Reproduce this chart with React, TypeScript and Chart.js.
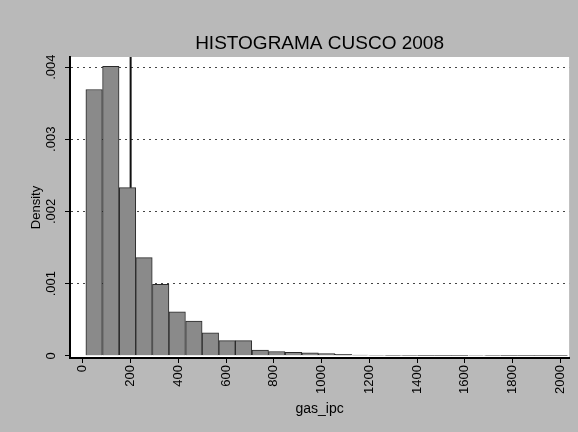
import React, { useEffect, useRef } from "react";
import { Chart, registerables } from "chart.js";

Chart.register(...registerables);

// Histogram bins (centres of bins of gas_ipc) and densities
const binCenters = [
  47, 117, 187, 256, 326, 395, 465, 534, 604, 673, 743, 812, 882, 952, 1021,
  1091, 1160, 1230, 1299, 1369, 1438, 1508, 1578, 1647, 1717, 1786, 1856, 1925, 1995,
];
const densities = [
  0.00369, 0.00401, 0.00233, 0.00136, 0.00099, 0.00061, 0.00048, 0.00032, 0.00021,
  0.00021, 0.00008, 0.00006, 0.00005, 0.00004, 0.00003, 0.00002, 0.00001, 0.000008,
  0.000005, 0.000005, 0.000003, 0.000003, 0.000003, 0.000008, 0.000005, 0.000002,
  0.000002, 0.000002, 0.000002,
];
// reference line
const refLineX = [200, 200];
const refLineY = [0.00233, 0.00414];

const xTicks = [0, 200, 400, 600, 800, 1000, 1200, 1400, 1600, 1800, 2000];
const yTicks = [0, 0.001, 0.002, 0.003, 0.004];

const titleText = "HISTOGRAMA CUSCO 2008";
const xTitle = "gas_ipc";
const yTitle = "Density";

const FONT = "'Liberation Sans', Arial, Helvetica, sans-serif";

export default function App() {
  const ref = useRef<HTMLCanvasElement | null>(null);

  useEffect(() => {
    const canvas = ref.current;
    if (!canvas) return;

    const bgPlugin = {
      id: "bgPlugin",
      beforeDraw(chart: any) {
        const { ctx, chartArea } = chart;
        ctx.save();
        ctx.fillStyle = "#b9b9b9";
        ctx.fillRect(0, 0, chart.width, chart.height);
        ctx.fillStyle = "#ffffff";
        ctx.fillRect(chartArea.left, chartArea.top, chartArea.right - chartArea.left, chartArea.bottom - chartArea.top);
        ctx.restore();
      },
      afterDraw(chart: any) {
        const { ctx, chartArea } = chart;
        ctx.save();
        ctx.fillStyle = "#000";
        ctx.font = `19px ${FONT}`;
        ctx.textAlign = "center";
        ctx.textBaseline = "middle";
        ctx.fillText(titleText, (chartArea.left + chartArea.right) / 2, 44);
        ctx.restore();
      },
    };

    const chart = new Chart(canvas, {
      type: "bar",
      data: {
        datasets: [
          {
            type: "line",
            data: refLineX.map((x, i) => ({ x, y: refLineY[i] })),
            borderColor: "#111",
            borderWidth: 2,
            pointRadius: 0,
            fill: false,
          } as any,
          {
            type: "bar",
            data: binCenters.map((x, i) => ({ x, y: densities[i] })),
            backgroundColor: "#8a8a8a",
            borderColor: "#2a2a2a",
            borderWidth: 1,
            barPercentage: 1,
            categoryPercentage: 1,
          } as any,
        ],
      },
      options: {
        responsive: false,
        maintainAspectRatio: false,
        animation: false,
        layout: { padding: { left: 0, top: 57, right: 6, bottom: 0 } },
        plugins: {
          legend: { display: false },
          title: { display: false },
          tooltip: { enabled: false },
        },
        scales: {
          x: {
            type: "linear",
            min: -54,
            max: 2037,
            offset: false,
            afterBuildTicks: (s: any) => {
              s.ticks = xTicks.map((v) => ({ value: v }));
            },
            afterFit: (s: any) => {
              s.height = 74;
            },
            ticks: {
              minRotation: 90,
              maxRotation: 90,
              padding: 2,
              color: "#000",
              font: { family: FONT, size: 13 },
              callback: (v: any) => String(v),
            },
            grid: {
              offset: false,
              drawOnChartArea: false,
              drawTicks: true,
              tickLength: 5,
              tickColor: "#000",
            },
            border: { display: true, color: "#000", width: 2 },
            title: {
              display: true,
              text: xTitle,
              color: "#000",
              font: { family: FONT, size: 14 },
              padding: { top: 0, bottom: 14 },
            },
          },
          y: {
            type: "linear",
            min: -0.00003,
            max: 0.00414,
            afterBuildTicks: (s: any) => {
              s.ticks = yTicks.map((v) => ({ value: v }));
            },
            afterFit: (s: any) => {
              s.width = 70;
            },
            ticks: {
              minRotation: 90,
              maxRotation: 90,
              crossAlign: "center",
              padding: 1,
              color: "#000",
              font: { family: FONT, size: 13 },
              callback: (v: any) => (v === 0 ? "0" : String(v).replace("0.", ".")),
            },
            grid: {
              drawOnChartArea: true,
              drawTicks: true,
              tickLength: 5,
              tickColor: "#000",
              tickBorderDash: [],
              color: (c: any) => (c.tick && c.tick.value === 0 ? "rgba(0,0,0,0)" : "#444"),
              lineWidth: 1,
            } as any,
            border: { display: true, color: "#000", width: 2, dash: [2, 4] },
            title: {
              display: true,
              text: yTitle,
              color: "#000",
              font: { family: FONT, size: 13 },
              padding: { top: 29, bottom: 0 },
            },
          },
        },
      } as any,
      plugins: [bgPlugin],
    });

    return () => chart.destroy();
  }, []);

  return (
    <div style={{ position: "absolute", left: 0, top: 0, width: 578, height: 432 }}>
      <canvas ref={ref} width={578} height={432} style={{ width: 578, height: 432 }} />
    </div>
  );
}
